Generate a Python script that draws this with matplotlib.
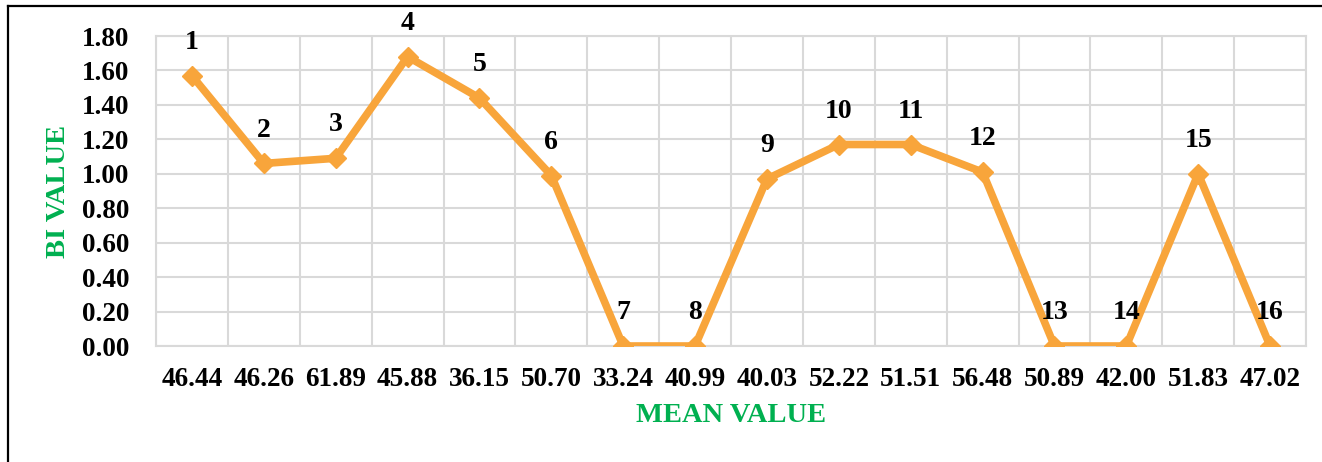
import matplotlib

matplotlib.use("Agg")
import matplotlib.pyplot as plt
from matplotlib.lines import Line2D
import numpy as np

mean_labels = ["46.44", "46.26", "61.89", "45.88", "36.15", "50.70", "33.24", "40.99",
               "40.03", "52.22", "51.51", "56.48", "50.89", "42.00", "51.83", "47.02"]
bi_values = [1.57, 1.06, 1.09, 1.68, 1.44, 0.99, 0.00, 0.00,
             0.97, 1.17, 1.17, 1.01, 0.00, 0.00, 1.00, 0.00]
point_ids = [str(i) for i in range(1, 17)]

ORANGE = "#F8A53B"
GREEN = "#00B050"
GRID = "#D9D9D9"

plt.rcParams["font.family"] = ["Liberation Serif", "DejaVu Serif"]
plt.rcParams["font.weight"] = "bold"

fig = plt.figure(figsize=(13.22, 4.62), dpi=100)
ax = fig.add_axes([156 / 1322, 116 / 462, 1150 / 1322, 310 / 462])

x = np.arange(len(bi_values))
ax.plot(x, bi_values, color=ORANGE, lw=5.5, marker="D", markersize=10,
        markerfacecolor=ORANGE, markeredgecolor=ORANGE, zorder=3)

for xi, yi, lab in zip(x, bi_values, point_ids):
    ax.annotate(lab, (xi, yi), xytext=(0, 24), textcoords="offset points",
                ha="center", va="center", fontsize=20, fontweight="bold",
                color="black", zorder=4)

ax.set_xlim(-0.5, len(bi_values) - 0.5)
ax.set_ylim(0, 1.8)
ax.set_yticks(np.arange(0, 1.81, 0.2))
ax.set_yticklabels([f"{v:.2f}" for v in np.arange(0, 1.81, 0.2)])
ax.set_xticks(x)
ax.set_xticklabels(mean_labels)
ax.set_xticks(np.arange(-0.5, len(bi_values), 1), minor=True)

ax.tick_params(axis="both", which="both", length=0, labelsize=19.5)
ax.tick_params(axis="x", which="major", pad=15)
ax.tick_params(axis="y", which="major", pad=19)
for lbl in ax.get_xticklabels() + ax.get_yticklabels():
    lbl.set_fontweight("bold")

ax.grid(True, axis="y", which="major", color=GRID, lw=1.5)
ax.grid(True, axis="x", which="minor", color=GRID, lw=1.5)
ax.set_axisbelow(True)
for sp in ax.spines.values():
    sp.set_color(GRID)
    sp.set_linewidth(1.5)

ax.set_xlabel("MEAN VALUE", color=GREEN, fontsize=20.5, fontweight="bold", labelpad=8)
ax.set_ylabel("BI VALUE", color=GREEN, fontsize=20.5, fontweight="bold", labelpad=8)

# partial outer frame (left and top edges)
fig.add_artist(Line2D([8 / 1322, 8 / 1322], [0, 1 - 6 / 462], color="black", lw=1.6,
                      transform=fig.transFigure))
fig.add_artist(Line2D([8 / 1322, 1], [1 - 6 / 462, 1 - 6 / 462], color="black", lw=1.6,
                      transform=fig.transFigure))

fig.savefig("out.png", dpi=100)
